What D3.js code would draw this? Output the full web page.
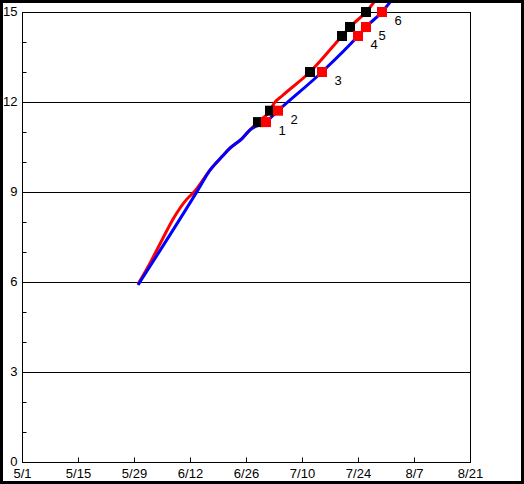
<!DOCTYPE html>
<html lang="en">
<meta charset="utf-8">
<title>Progress chart</title>
<style>
  body { margin: 0; background: #fff; }
  text { font-family: "Liberation Sans", Arial, sans-serif; font-size: 13px; fill: #000; }
</style>
<body>
<script src="https://d3js.org/d3.v7.min.js"></script>
<script>
  // x tick labels (every two weeks)
  var xTickLabels = ["5/1", "5/15", "5/29", "6/12", "6/26", "7/10", "7/24", "8/7", "8/21"];

  // blue series
  var blueDates = ["5/30", "6/14", "6/17", "6/20", "6/22", "6/25", "6/27", "7/1", "7/4", "7/15", "7/24", "7/26", "7/30", "8/2"];
  var blueValues = [5.9, 9.07, 9.73, 10.18, 10.46, 10.78, 11.07, 11.34, 11.71, 13.0, 14.2, 14.5, 15.0, 15.5];

  // red series
  var redDates = ["5/30", "6/2", "6/5", "6/8", "6/11", "6/13", "6/17", "6/20", "6/22", "6/25", "6/27", "6/29", "7/2", "7/3", "7/5", "7/12", "7/20", "7/22", "7/26", "7/29"];
  var redValues = [5.93, 6.63, 7.4, 8.15, 8.73, 9.0, 9.73, 10.18, 10.46, 10.78, 11.07, 11.33, 11.71, 11.95, 12.2, 13.0, 14.2, 14.5, 15.0, 15.5];

  // milestone markers
  var blackMarkerDates = ["6/29", "7/2", "7/12", "7/20", "7/22", "7/26"];
  var redMarkerDates = ["7/1", "7/4", "7/15", "7/24", "7/26", "7/30"];
  var markerValues = [11.33, 11.71, 13.0, 14.2, 14.5, 15.0];
  var markerLabels = ["1", "2", "3", "4", "5", "6"];

  var W = 524, H = 484;
  var margin = { top: 12, right: 54, bottom: 22, left: 22 },
    width = W - margin.left - margin.right,
    height = H - margin.top - margin.bottom;

  var parseDate = d3.timeParse("%m/%d");

  var x = d3.scaleTime()
    .domain([parseDate("5/1"), parseDate("8/21")])
    .range([0, width]);
  var y = d3.scaleLinear().domain([0, 15]).range([height, 0]);

  var svg = d3.select("body").append("svg")
    .attr("width", W)
    .attr("height", H);

  var g = svg.append("g")
    .attr("transform", "translate(" + margin.left + "," + margin.top + ")");

  // horizontal grid lines every 3
  g.selectAll(".grid")
    .data([3, 6, 9, 12])
    .enter().append("line")
    .attr("x1", 0).attr("x2", width)
    .attr("y1", function(d) { return Math.round(y(d)) + 0.5; })
    .attr("y2", function(d) { return Math.round(y(d)) + 0.5; })
    .attr("stroke", "#000");

  // plot frame
  g.append("rect")
    .attr("x", 0.5).attr("y", 0.5)
    .attr("width", width).attr("height", height)
    .attr("fill", "none").attr("stroke", "#000");

  // X axis, ticks pointing inward
  var xAxis = g.append("g")
    .attr("transform", "translate(0," + (height + 0.5) + ")")
    .call(d3.axisBottom(x)
      .tickValues(xTickLabels.map(parseDate))
      .tickFormat(d3.timeFormat("%-m/%-d"))
      .tickSizeInner(-5).tickSizeOuter(0).tickPadding(6));
  xAxis.select(".domain").remove();
  xAxis.attr("font-size", null).attr("font-family", null);

  // Y axis, minor ticks every 1, labels every 3
  var yAxis = g.append("g")
    .attr("transform", "translate(0.5,0)")
    .call(d3.axisLeft(y)
      .tickValues(d3.range(0, 16))
      .tickFormat(function(d) { return d % 3 === 0 ? d : ""; })
      .tickSizeInner(-4).tickSizeOuter(0).tickPadding(5));
  yAxis.select(".domain").remove();
  yAxis.attr("font-size", null).attr("font-family", null);
  yAxis.selectAll("text").attr("dy", "0.25em");

  var line = d3.line()
    .curve(d3.curveMonotoneX)
    .x(function(d) { return x(d[0]); })
    .y(function(d) { return y(d[1]); });

  var redData = redDates.map(function(d, i) { return [parseDate(d), redValues[i]]; });
  var blueData = blueDates.map(function(d, i) { return [parseDate(d), blueValues[i]]; });

  g.append("path")
    .datum(redData)
    .attr("fill", "none").attr("stroke", "#f00")
    .attr("stroke-width", 3).attr("stroke-linejoin", "round")
    .attr("d", line);

  g.append("path")
    .datum(blueData)
    .attr("fill", "none").attr("stroke", "#00f")
    .attr("stroke-width", 3).attr("stroke-linejoin", "round")
    .attr("d", line);

  // markers
  var s = 10;
  g.selectAll(".mk-black")
    .data(blackMarkerDates)
    .enter().append("rect")
    .attr("x", function(d) { return x(parseDate(d)) - s / 2; })
    .attr("y", function(d, i) { return y(markerValues[i]) - s / 2; })
    .attr("width", s).attr("height", s)
    .attr("fill", "#000");

  g.selectAll(".mk-red")
    .data(redMarkerDates)
    .enter().append("rect")
    .attr("x", function(d) { return x(parseDate(d)) - s / 2; })
    .attr("y", function(d, i) { return y(markerValues[i]) - s / 2; })
    .attr("width", s).attr("height", s)
    .attr("fill", "#f00");

  g.selectAll(".mk-label")
    .data(redMarkerDates)
    .enter().append("text")
    .attr("x", function(d) { return x(parseDate(d)) + 16; })
    .attr("y", function(d, i) { return y(markerValues[i]) + 13; })
    .attr("text-anchor", "middle")
    .text(function(d, i) { return markerLabels[i]; });

  // outer frame
  svg.append("rect")
    .attr("x", 1.5).attr("y", 1.5)
    .attr("width", W - 3).attr("height", H - 3)
    .attr("fill", "none").attr("stroke", "#000").attr("stroke-width", 3);
</script>
</body>
</html>
